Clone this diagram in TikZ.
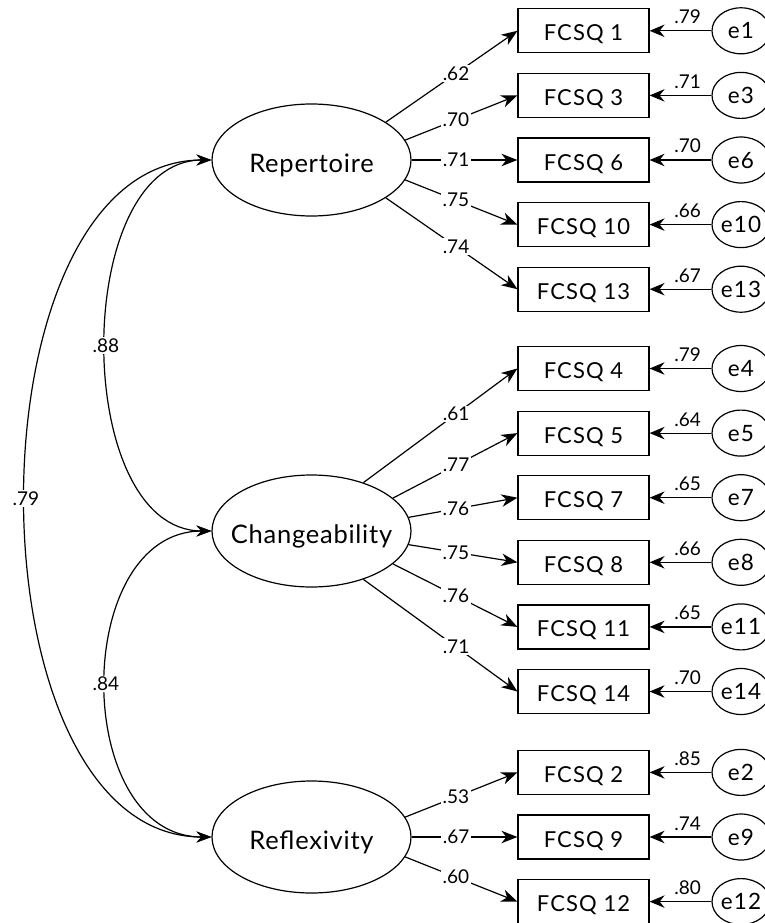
\documentclass[tikz,border=0pt]{standalone}
\usepackage{fontspec}
\setmainfont{Lato}
\newfontfamily\boxfont[LetterSpace=5]{Lato}
\newfontfamily\latfont[LetterSpace=3]{Lato}
\newfontfamily\numfont{Lato}
\usetikzlibrary{arrows.meta,shapes.geometric}
\begin{document}
\begin{tikzpicture}[x=1pt,y=-1pt, line width=1.2pt,
  lat/.style={draw, ellipse, minimum width=199pt, minimum height=112pt, inner sep=0pt,
    text height=25.5pt, text depth=0pt, font=\latfont\fontsize{25.5}{30}\selectfont},
  obs/.style={draw, rectangle, minimum width=131pt, minimum height=44pt, inner sep=0pt,
    text height=20pt, text depth=0pt, font=\boxfont\fontsize{22}{26}\selectfont},
  err/.style={draw, ellipse, minimum width=58pt, minimum height=46pt, inner sep=0pt,
    text height=16pt, text depth=0pt, font=\boxfont\fontsize{22.5}{26}\selectfont},
  lab/.style={fill=white, inner sep=1.5pt, font=\numfont\fontsize{19}{22}\selectfont},
  elab/.style={anchor=base, yshift=7pt, inner sep=0pt, font=\numfont\fontsize{19}{22}\selectfont},
  ar/.style={-{Stealth[length=16pt,width=12.5pt,inset=5pt]}},
  ear/.style={-{Stealth[length=15pt,width=12.5pt,inset=5pt]}},
  cor/.style={{Stealth[length=15pt,width=11pt,inset=5pt]}-{Stealth[length=15pt,width=11pt,inset=5pt]}},
]
\useasboundingbox (0,0) rectangle (764,923);
\fill[white] (0,0) rectangle (764,923);

% latent factors
\node[lat] (rep) at (311.5,160) {\makebox[0pt]{Repertoire}};
\node[lat] (chg) at (311.5,531) {\makebox[0pt]{Changeability}};
\node[lat] (rfl) at (311.5,837) {\makebox[0pt]{Reflexivity}};

% observed items
\node[obs] (b1)  at (583.5,30.8)  {FCSQ 1};
\node[obs] (b3)  at (583.5,95.4)  {FCSQ 3};
\node[obs] (b6)  at (583.5,160)   {FCSQ 6};
\node[obs] (b10) at (583.5,224.6) {FCSQ 10};
\node[obs] (b13) at (583.5,289.2) {FCSQ 13};
\node[obs] (b4)  at (583.5,368.5) {FCSQ 4};
\node[obs] (b5)  at (583.5,433.1) {FCSQ 5};
\node[obs] (b7)  at (583.5,497.7) {FCSQ 7};
\node[obs] (b8)  at (583.5,562.3) {FCSQ 8};
\node[obs] (b11) at (583.5,626.9) {FCSQ 11};
\node[obs] (b14) at (583.5,691.5) {FCSQ 14};
\node[obs] (b2)  at (583.5,772.4) {FCSQ 2};
\node[obs] (b9)  at (583.5,837)   {FCSQ 9};
\node[obs] (b12) at (583.5,901.6) {FCSQ 12};

% error terms
\foreach \n/\y in {1/30.8,3/95.4,6/160,10/224.6,13/289.2,4/368.5,5/433.1,7/497.7,8/562.3,11/626.9,14/691.5,2/772.4,9/837,12/901.6}
  \node[err] (e\n) at (741,\y) {e\n};

% error arrows
\foreach \n/\v in {1/.79,3/.71,6/.70,10/.66,13/.67,4/.79,5/.64,7/.65,8/.66,11/.65,14/.70,2/.85,9/.74,12/.80}
  \draw[ear] (e\n.west) -- node[elab, pos=0.384] {\v} (b\n.east);

% loadings
\foreach \a/\n/\v in {27/1/.62,12.5/3/.70,0/6/.71,-12.5/10/.75,-27/13/.74}{
  \draw[ar] (rep.\a) -- (b\n.west);
  \node[lab] at (intersection of rep.\a--b\n.west and 456,0--456,923) {\v};
}
\foreach \a/\n/\v in {43/4/.61,22.5/5/.77,8.3/7/.76,-8.3/8/.75,-22.5/11/.76,-43/14/.71}{
  \draw[ar] (chg.\a) -- (b\n.west);
  \node[lab] at (intersection of chg.\a--b\n.west and 456,0--456,923) {\v};
}
\foreach \a/\n/\v in {12.5/2/.53,0/9/.67,-12.5/12/.60}{
  \draw[ar] (rfl.\a) -- (b\n.west);
  \node[lab] at (intersection of rfl.\a--b\n.west and 456,0--456,923) {\v};
}

% correlations
\draw[cor] (rep.west) .. controls (71,160) and (71,531) .. (chg.west);
\draw[cor] (chg.west) .. controls (71,531) and (71,837) .. (rfl.west);
\draw[cor] (rep.west) .. controls (-36,160) and (-36,837) .. (rfl.west);
\node[lab] (c1) at (106,345.5) {.88};
\node[lab] (c2) at (106,684) {.84};
\node[lab] (c3) at (26,498.5) {.79};
\end{tikzpicture}
\end{document}
